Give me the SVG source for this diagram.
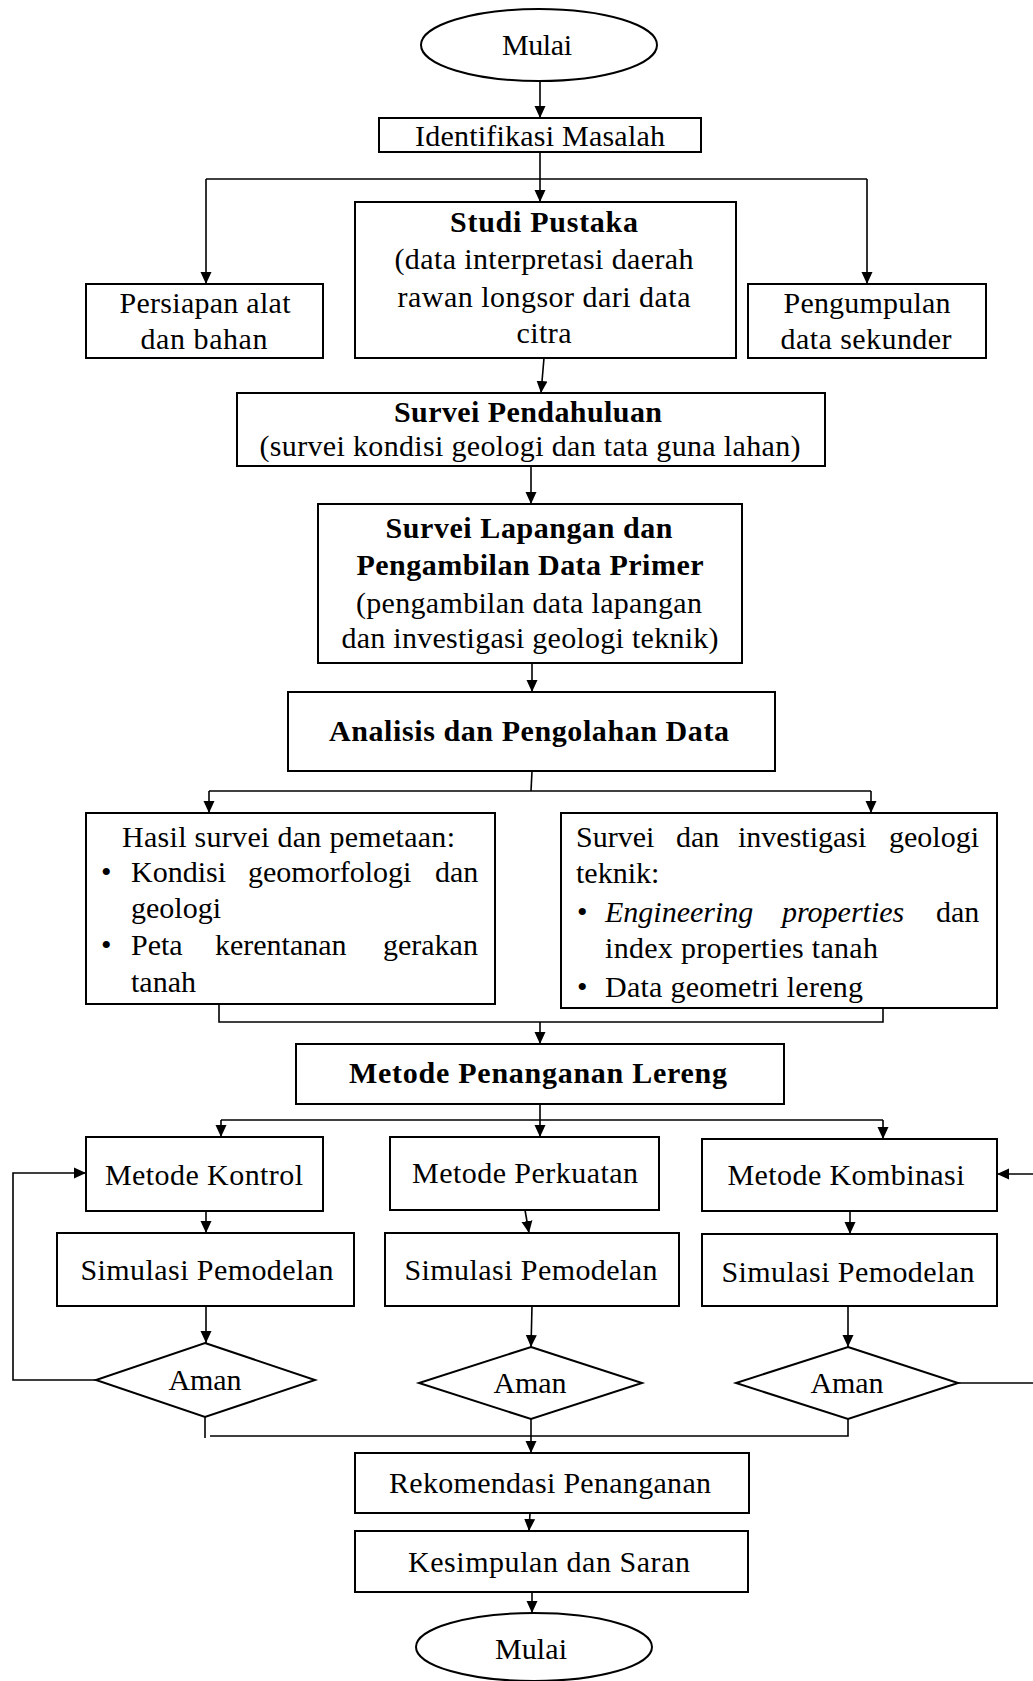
<svg xmlns="http://www.w3.org/2000/svg" width="1033" height="1681" viewBox="0 0 1033 1681">
<defs>
<marker id="ah" markerUnits="userSpaceOnUse" markerWidth="12" markerHeight="12" viewBox="0 0 12 12" refX="12" refY="6" orient="auto">
<path d="M0,0.5 L12,6 L0,11.5 Z" fill="#000"/>
</marker>
<style>
.b{fill:#fff;stroke:#000;stroke-width:2}
.t{font-size:30px;fill:#000;text-anchor:middle}
.l{font-size:30px;fill:#000}
.bd{font-weight:bold}
.c{fill:none;stroke:#000;stroke-width:1.6}
.a{marker-end:url(#ah)}
</style>
</defs>
<rect width="1033" height="1681" fill="#fff"/>

<g id="connectors">
<line class="c a" x1="540" y1="81" x2="540" y2="118"/>
<line class="c a" x1="540" y1="152" x2="540" y2="202"/>
<polyline class="c" points="206,179 867,179"/>
<line class="c a" x1="206" y1="179" x2="206" y2="284"/>
<line class="c a" x1="867" y1="179" x2="867" y2="284"/>
<line class="c a" x1="544" y1="358" x2="541" y2="393"/>
<line class="c a" x1="531" y1="466" x2="531" y2="504"/>
<line class="c a" x1="532" y1="663" x2="532" y2="692"/>
<polyline class="c" points="532,771 531,791"/>
<polyline class="c" points="209,791 871,791"/>
<line class="c a" x1="209" y1="791" x2="209" y2="813"/>
<line class="c a" x1="871" y1="791" x2="871" y2="813"/>
<polyline class="c" points="219,1004 219,1022 883,1022 883,1008"/>
<line class="c a" x1="540" y1="1022" x2="540" y2="1044"/>
<polyline class="c" points="540,1104 540,1120"/>
<polyline class="c" points="221,1120 883,1120"/>
<line class="c a" x1="221" y1="1120" x2="221" y2="1137"/>
<line class="c a" x1="540" y1="1120" x2="540" y2="1137"/>
<line class="c a" x1="883" y1="1120" x2="883" y2="1139"/>
<line class="c a" x1="206" y1="1211" x2="206" y2="1233"/>
<line class="c a" x1="525" y1="1210" x2="529" y2="1233"/>
<line class="c a" x1="850" y1="1211" x2="850" y2="1234"/>
<line class="c a" x1="206" y1="1306" x2="206" y2="1343"/>
<line class="c a" x1="532" y1="1306" x2="531" y2="1347"/>
<line class="c a" x1="848" y1="1306" x2="848" y2="1347"/>
<polyline class="c a" points="96,1380 13,1380 13,1173 86,1173"/>
<line class="c" x1="958" y1="1383" x2="1033" y2="1383"/>
<line class="c a" x1="1033" y1="1174" x2="997" y2="1174"/>
<polyline class="c" points="205,1417 205,1438"/>
<polyline class="c" points="848,1419 848,1436 210,1436"/>
<line class="c a" x1="531" y1="1419" x2="531" y2="1453"/>
<line class="c a" x1="530" y1="1513" x2="529" y2="1531"/>
<line class="c a" x1="532" y1="1592" x2="532" y2="1613"/>
</g>

<g id="nodes" font-family="Liberation Serif, Times New Roman, serif">
<g id="start">
<ellipse class="b" cx="539" cy="45" rx="118" ry="36"/>
<text class="t" x="537" y="55" textLength="70">Mulai</text>
</g>
<g id="identifikasi">
<rect class="b" x="379" y="118" width="322" height="34"/>
<text class="t" x="540" y="146" textLength="250">Identifikasi Masalah</text>
</g>
<g id="persiapan">
<rect class="b" x="86" y="284" width="237" height="74"/>
<text class="t" x="205" y="313" textLength="171">Persiapan alat</text>
<text class="t" x="204" y="349" textLength="127">dan bahan</text>
</g>
<g id="studi">
<rect class="b" x="355" y="202" width="381" height="156"/>
<text class="t bd" x="544" y="232" textLength="188">Studi Pustaka</text>
<text class="t" x="544" y="269" textLength="299">(data interpretasi  daerah</text>
<text class="t" x="544" y="307" textLength="293">rawan longsor dari data</text>
<text class="t" x="544" y="343" textLength="55">citra</text>
</g>
<g id="pengumpulan">
<rect class="b" x="748" y="284" width="238" height="74"/>
<text class="t" x="867" y="313" textLength="167">Pengumpulan</text>
<text class="t" x="866" y="349" textLength="171">data sekunder</text>
</g>
<g id="survei-pendahuluan">
<rect class="b" x="237" y="393" width="588" height="73"/>
<text class="t bd" x="528" y="422" textLength="268">Survei Pendahuluan</text>
<text class="t" x="530" y="456" textLength="541">(survei kondisi geologi  dan tata  guna  lahan)</text>
</g>
<g id="survei-lapangan">
<rect class="b" x="318" y="504" width="424" height="159"/>
<text class="t bd" x="529" y="538" textLength="287">Survei Lapangan dan</text>
<text class="t bd" x="530" y="575" textLength="347">Pengambilan Data Primer</text>
<text class="t" x="529" y="613" textLength="346">(pengambilan  data lapangan</text>
<text class="t" x="530" y="648" textLength="377">dan investigasi  geologi  teknik)</text>
</g>
<g id="analisis">
<rect class="b" x="288" y="692" width="487" height="79"/>
<text class="t bd" x="529" y="741" textLength="400">Analisis dan Pengolahan Data</text>
</g>
<g id="hasil-survei">
<rect class="b" x="86" y="813" width="409" height="191"/>
<text class="l" x="122" y="847" textLength="333">Hasil survei dan pemetaan:</text>
<text class="l" x="101" y="882">•</text>
<text class="l" y="882"><tspan x="131">Kondisi</tspan><tspan x="248">geomorfologi</tspan><tspan x="435">dan</tspan></text>
<text class="l" x="131" y="918">geologi</text>
<text class="l" x="101" y="955">•</text>
<text class="l" y="955"><tspan x="131">Peta</tspan><tspan x="215">kerentanan</tspan><tspan x="383">gerakan</tspan></text>
<text class="l" x="131" y="992">tanah</text>
</g>
<g id="investigasi">
<rect class="b" x="561" y="813" width="436" height="195"/>
<text class="l" y="847"><tspan x="576">Survei</tspan><tspan x="676">dan</tspan><tspan x="738">investigasi</tspan><tspan x="889">geologi</tspan></text>
<text class="l" x="576" y="883">teknik:</text>
<text class="l" x="577" y="922">•</text>
<text class="l" y="922"><tspan x="605" font-style="italic">Engineering</tspan><tspan x="782" font-style="italic">properties</tspan><tspan x="936">dan</tspan></text>
<text class="l" x="605" y="958" textLength="273">index properties tanah</text>
<text class="l" x="577" y="997">•</text>
<text class="l" x="605" y="997" textLength="258">Data geometri lereng</text>
</g>
<g id="metode-penanganan">
<rect class="b" x="296" y="1044" width="488" height="60"/>
<text class="t bd" x="538" y="1083" textLength="378">Metode Penanganan Lereng</text>
</g>
<g id="metode-kontrol">
<rect class="b" x="86" y="1137" width="237" height="74"/>
<text class="t" x="204" y="1185" textLength="198">Metode Kontrol</text>
</g>
<g id="metode-perkuatan">
<rect class="b" x="390" y="1137" width="269" height="73"/>
<text class="t" x="525" y="1183" textLength="226">Metode Perkuatan</text>
</g>
<g id="metode-kombinasi">
<rect class="b" x="702" y="1139" width="295" height="72"/>
<text class="t" x="846" y="1185" textLength="237">Metode Kombinasi</text>
</g>
<g id="simulasi-1">
<rect class="b" x="57" y="1233" width="297" height="73"/>
<text class="t" x="207" y="1280" textLength="253">Simulasi Pemodelan</text>
</g>
<g id="simulasi-2">
<rect class="b" x="385" y="1233" width="294" height="73"/>
<text class="t" x="531" y="1280" textLength="253">Simulasi Pemodelan</text>
</g>
<g id="simulasi-3">
<rect class="b" x="702" y="1234" width="295" height="72"/>
<text class="t" x="848" y="1282" textLength="253">Simulasi Pemodelan</text>
</g>
<g id="aman-1">
<polygon class="b" points="205,1343 315,1380 205,1417 96,1380"/>
<text class="t" x="205" y="1390" textLength="73">Aman</text>
</g>
<g id="aman-2">
<polygon class="b" points="531,1347 642,1383 531,1419 419,1383"/>
<text class="t" x="530" y="1393" textLength="73">Aman</text>
</g>
<g id="aman-3">
<polygon class="b" points="848,1347 958,1383 848,1419 736,1383"/>
<text class="t" x="847" y="1393" textLength="73">Aman</text>
</g>
<g id="rekomendasi">
<rect class="b" x="355" y="1453" width="394" height="60"/>
<text class="t" x="550" y="1493" textLength="322">Rekomendasi Penanganan</text>
</g>
<g id="kesimpulan">
<rect class="b" x="355" y="1531" width="393" height="61"/>
<text class="t" x="549" y="1572" textLength="282">Kesimpulan dan Saran</text>
</g>
<g id="end">
<ellipse class="b" cx="534" cy="1647" rx="118" ry="34"/>
<text class="t" x="531" y="1659" textLength="72">Mulai</text>
</g>
</g>
</svg>
